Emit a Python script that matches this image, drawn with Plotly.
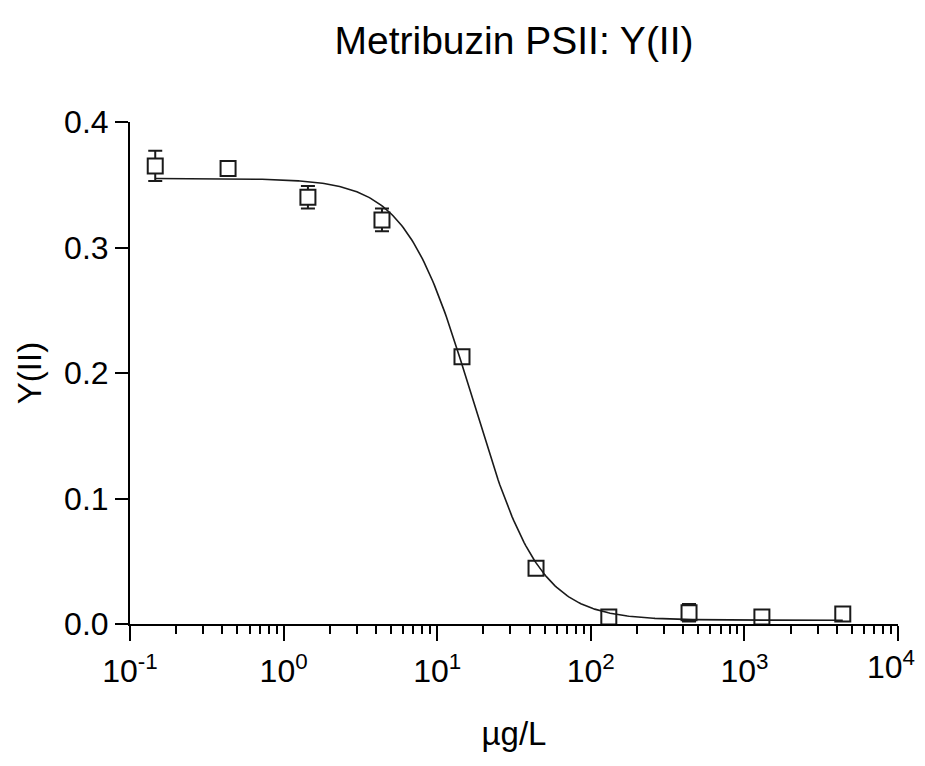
import numpy as np
import plotly.graph_objects as go

# Data
conc = [0.146, 0.435, 1.44, 4.37, 14.5, 44.0, 131.0, 436.0, 1300.0, 4370.0]
yII = [0.365, 0.363, 0.340, 0.322, 0.213, 0.0445, 0.0055, 0.009, 0.0055, 0.008]
yII_err = [0.012, 0.004, 0.009, 0.009, 0.002, 0.002, 0.002, 0.007, 0.002, 0.005]

# Fitted dose-response (4-parameter logistic) parameters
fit_top = 0.355
fit_bottom = 0.003
fit_ic50 = 17.0
fit_hill = 2.0

x_ticks = [0.1, 1, 10, 100, 1000, 10000]
x_ticktext = ["10<sup>-1</sup>", "10<sup>0</sup>", "10<sup>1</sup>",
              "10<sup>2</sup>", "10<sup>3</sup>", "10<sup>4</sup>"]
y_ticks = [0.0, 0.1, 0.2, 0.3, 0.4]
y_ticktext = ["0.0", "0.1", "0.2", "0.3", "0.4"]

minor_vals = [m * 10.0 ** e for e in range(-1, 4) for m in range(2, 10)]

xc = np.logspace(np.log10(conc[0]), np.log10(conc[-1]), 400)
yc = fit_bottom + (fit_top - fit_bottom) / (1 + (xc / fit_ic50) ** fit_hill)

FONT = "Liberation Sans, Arial, sans-serif"
INK = "#1a1a1a"
TICK_SIZE = 32

fig = go.Figure()
# data points: white-filled squares so error bars do not show inside the box
fig.add_trace(go.Scatter(
    x=conc, y=yII, mode="markers",
    marker=dict(symbol="square", size=15, color="white",
                line=dict(color=INK, width=2)),
    error_y=dict(type="data", array=yII_err, visible=True,
                 color=INK, thickness=2, width=7),
    showlegend=False))
# fitted curve on top
fig.add_trace(go.Scatter(
    x=xc, y=yc, mode="lines",
    line=dict(color=INK, width=1.6),
    showlegend=False, hoverinfo="skip"))

# the last x tick label sits at the page edge; draw it as an axis-anchored
# annotation (nudged inwards) so it is not hidden by the overflow check
axis_ticktext = x_ticktext[:-1] + [""]
fig.add_annotation(
    x=np.log10(x_ticks[-1]), xref="x", y=0, yref="paper",
    text=x_ticktext[-1], showarrow=False,
    xanchor="center", yanchor="top", xshift=-7, yshift=-19,
    font=dict(family=FONT, size=TICK_SIZE, color="black"))

fig.update_layout(
    width=909, height=750,
    margin=dict(l=122, r=19, t=114, b=124),
    paper_bgcolor="white", plot_bgcolor="white",
    font=dict(family=FONT, color="black", size=TICK_SIZE),
    title=dict(text="Metribuzin PSII: Y(II)", xref="paper", x=0.5,
               xanchor="center", y=0.957, yanchor="middle",
               font=dict(family=FONT, size=39, color="black")),
)
fig.update_xaxes(
    type="log", range=[-1, 4],
    tickmode="array", tickvals=x_ticks, ticktext=axis_ticktext,
    ticks="outside", ticklen=15, tickwidth=2, tickcolor="black",
    ticklabelstandoff=3,
    showline=True, linecolor="black", linewidth=2,
    showgrid=False, zeroline=False,
    tickfont=dict(family=FONT, size=TICK_SIZE, color="black"),
    minor=dict(tickmode="array", tickvals=minor_vals, ticks="outside",
               ticklen=8, tickwidth=2, tickcolor="black", showgrid=False),
    title=dict(text="µg/L", font=dict(family=FONT, size=33, color="black"),
               standoff=33),
)
fig.update_yaxes(
    range=[0, 0.4],
    tickmode="array", tickvals=y_ticks, ticktext=y_ticktext,
    ticks="outside", ticklen=13, tickwidth=2, tickcolor="black",
    showline=True, linecolor="black", linewidth=2,
    showgrid=False, zeroline=False,
    tickfont=dict(family=FONT, size=TICK_SIZE, color="black"),
    title=dict(text="Y(II)", font=dict(family=FONT, size=33, color="black"),
               standoff=13),
)

fig.write_html("out.html")
